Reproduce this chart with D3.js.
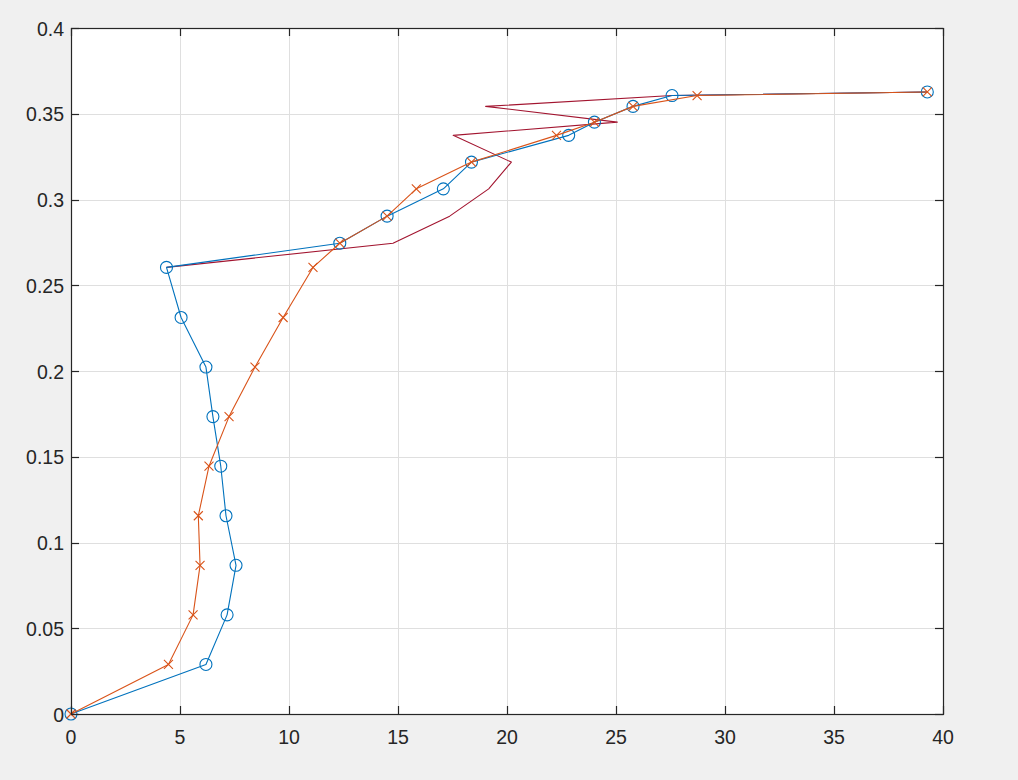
<!DOCTYPE html>
<html>
<head>
<meta charset="utf-8">
<script src="https://cdn.jsdelivr.net/npm/d3@7"></script>
<style>
  html, body { margin: 0; padding: 0; background: #f0f0f0; }
  svg { display: block; }
  text { font-family: "Liberation Sans", Arial, sans-serif; }
</style>
</head>
<body>
<script>
// ---- data ----
const yLevels = [0, 0.0289, 0.0578, 0.0867, 0.1156, 0.1445, 0.1734, 0.2023, 0.2312, 0.2604,
                 0.2745, 0.2903, 0.3062, 0.3218, 0.3374, 0.3451, 0.3543, 0.3606, 0.3627];
const blueX   = [0, 6.19, 7.16, 7.57, 7.11, 6.87, 6.51, 6.19, 5.05, 4.38,
                 12.33, 14.50, 17.08, 18.37, 22.83, 24.01, 25.78, 27.57, 39.28];
const orangeX = [0, 4.47, 5.60, 5.92, 5.84, 6.33, 7.25, 8.44, 9.73, 11.10,
                 12.33, 14.50, 15.84, 18.37, 22.27, 24.01, 25.78, 28.72, 39.28];
// dark red line (its visible part starts at the blue point at y = 0.2604)
const redY    = [0.2604, 0.2745, 0.2903, 0.3062, 0.3218, 0.3374, 0.3451, 0.3543, 0.3606, 0.3627];
const redX    = [4.38, 14.77, 17.37, 19.16, 20.20, 17.53, 25.06, 19.02, 27.57, 39.28];
const xTicks = [0, 5, 10, 15, 20, 25, 30, 35, 40];
const yTicks = [0, 0.05, 0.1, 0.15, 0.2, 0.25, 0.3, 0.35, 0.4];
const yTickLabels = ["0", "0.05", "0.1", "0.15", "0.2", "0.25", "0.3", "0.35", "0.4"];

(function () {
const W = 1018, H = 780;
const pL = 71, pR = 943, pT = 28, pB = 714;

const svg = d3.select("body").append("svg").attr("width", W).attr("height", H);
svg.append("rect").attr("width", W).attr("height", H).attr("fill", "#f0f0f0");

const x = d3.scaleLinear().domain([0, 40]).range([pL, pR]);
const y = d3.scaleLinear().domain([0, 0.4]).range([pB, pT]);

svg.append("rect").attr("x", pL).attr("y", pT)
  .attr("width", pR - pL).attr("height", pB - pT).attr("fill", "#ffffff");

// grid
const grid = svg.append("g").attr("stroke", "#dfdfdf").attr("stroke-width", 1);
xTicks.forEach(t => grid.append("line")
  .attr("x1", Math.round(x(t)) + 0.5).attr("x2", Math.round(x(t)) + 0.5)
  .attr("y1", pT).attr("y2", pB));
yTicks.forEach(t => grid.append("line")
  .attr("y1", Math.round(y(t)) + 0.5).attr("y2", Math.round(y(t)) + 0.5)
  .attr("x1", pL).attr("x2", pR));

// lines
const line = d3.line().x(d => x(d[0])).y(d => y(d[1]));
const series = [
  { data: redX.map((v, i) => [v, redY[i]]), color: "#a2142f", marker: null },
  { data: blueX.map((v, i) => [v, yLevels[i]]), color: "#0072bd", marker: "o" },
  { data: orangeX.map((v, i) => [v, yLevels[i]]), color: "#d95319", marker: "x" }
];
series.forEach(s => {
  const g = svg.append("g");
  g.append("path").attr("d", line(s.data)).attr("fill", "none")
    .attr("stroke", s.color).attr("stroke-width", 1.1).attr("stroke-linejoin", "round");
  if (s.marker === "o") {
    g.selectAll("circle").data(s.data).join("circle")
      .attr("cx", d => x(d[0])).attr("cy", d => y(d[1])).attr("r", 6)
      .attr("fill", "none").attr("stroke", s.color).attr("stroke-width", 1.1);
  } else if (s.marker === "x") {
    const r = 4.5;
    g.selectAll("path.m").data(s.data).join("path").attr("class", "m")
      .attr("d", d => {
        const cx = x(d[0]), cy = y(d[1]);
        return `M${cx - r},${cy - r}L${cx + r},${cy + r}M${cx - r},${cy + r}L${cx + r},${cy - r}`;
      })
      .attr("fill", "none").attr("stroke", s.color).attr("stroke-width", 1.1);
  }
});

// axes box and ticks
const ax = svg.append("g").attr("stroke", "#262626").attr("stroke-width", 1.2);
ax.append("rect").attr("x", pL + 0.5).attr("y", pT + 0.5)
  .attr("width", pR - pL).attr("height", pB - pT).attr("fill", "none");
const tl = 8;
xTicks.forEach(t => {
  const px = Math.round(x(t)) + 0.5;
  ax.append("line").attr("x1", px).attr("x2", px).attr("y1", pB).attr("y2", pB - tl);
  ax.append("line").attr("x1", px).attr("x2", px).attr("y1", pT).attr("y2", pT + tl);
});
yTicks.forEach(t => {
  const py = Math.round(y(t)) + 0.5;
  ax.append("line").attr("y1", py).attr("y2", py).attr("x1", pL).attr("x2", pL + tl);
  ax.append("line").attr("y1", py).attr("y2", py).attr("x1", pR).attr("x2", pR - tl);
});

// labels
const lab = svg.append("g").attr("fill", "#262626").attr("font-size", 19.5);
xTicks.forEach(t => lab.append("text").attr("x", x(t)).attr("y", pB + 30)
  .attr("text-anchor", "middle").text(String(t)));
yTicks.forEach((t, i) => lab.append("text").attr("x", pL - 7).attr("y", y(t) + 7.5)
  .attr("text-anchor", "end").text(yTickLabels[i]));
})();
</script>
</body>
</html>
